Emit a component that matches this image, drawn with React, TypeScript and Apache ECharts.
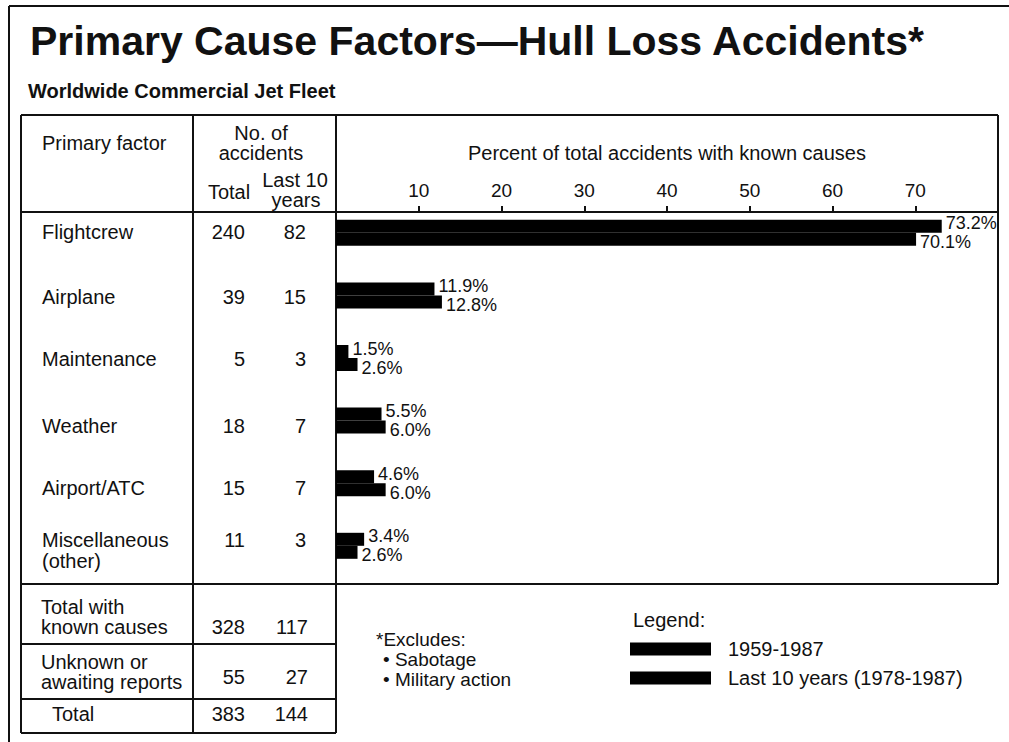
import React, { useEffect, useRef } from 'react';
import * as echarts from 'echarts';

// ---- data ----
const factors = ['Flightcrew', 'Airplane', 'Maintenance', 'Weather', 'Airport/ATC', 'Miscellaneous\n(other)'];
const totalCounts = [240, 39, 5, 18, 15, 11];
const last10Counts = [82, 15, 3, 7, 7, 3];
const pct1959 = [73.2, 11.9, 1.5, 5.5, 4.6, 3.4];
const pctLast10 = [70.1, 12.8, 2.6, 6.0, 6.0, 2.6];
const seriesNames = ['1959-1987', 'Last 10 years (1978-1987)'];
const summaryLabels = ['Total with\nknown causes', 'Unknown or\nawaiting reports', 'Total'];
const summaryTotal = [328, 55, 383];
const summaryLast10 = [117, 27, 144];
const excludes = ['Sabotage', 'Military action'];

// ---- layout / style ----
const FONT = '"Liberation Sans", Arial, Helvetica, sans-serif';
const INK = '#111';
const GRID_LEFT = 336;
const GRID_RIGHT = 998;
const GRID_TOP = 201.5;
const BAND = 62.6;
const HEADER_Y = 212;
const rowY = [232, 297, 359, 426, 488, 540];
const sumY = [627, 677, 714];
const sumLabelY = [[607, 627], [662, 682], [714]];

function txt(x: number, y: number, text: string, opts: any = {}) {
  const align = opts.align || 'left';
  return {
    type: 'text',
    x,
    y,
    silent: true,
    style: {
      text,
      fill: INK,
      fontFamily: FONT,
      fontSize: opts.size || 20,
      fontWeight: opts.weight || 'normal',
      align,
      verticalAlign: 'middle',
      textAlign: align,
      textVerticalAlign: 'middle',
    },
  };
}

function ln(x1: number, y1: number, x2: number, y2: number, w = 2) {
  return {
    type: 'line',
    silent: true,
    shape: { x1, y1, x2, y2 },
    style: { stroke: INK, lineWidth: w },
  };
}

function barLabel(dy: number) {
  return {
    show: true,
    position: 'right',
    distance: 4,
    offset: [0, dy],
    fontSize: 18,
    color: INK,
    fontFamily: FONT,
    formatter: (p: any) => Number(p.value).toFixed(1) + '%',
  };
}

export default function App() {
  const ref = useRef<HTMLDivElement>(null);

  useEffect(() => {
    if (!ref.current) return;
    const chart = echarts.init(ref.current, undefined, { renderer: 'svg' });

    const graphic: any[] = [];
    // outer page frame (cropped)
    graphic.push(ln(9, 6, 9, 742));
    graphic.push(ln(9, 6, 1009, 6));
    // titles
    graphic.push(txt(30, 41, 'Primary Cause Factors\u2014Hull Loss Accidents*', { size: 41, weight: 'bold' }));
    graphic.push(txt(28, 91, 'Worldwide Commercial Jet Fleet', { size: 20, weight: 'bold' }));
    // table lines
    graphic.push(ln(21, 115, GRID_RIGHT, 115));
    graphic.push(ln(21, 115, 21, 733));
    graphic.push(ln(GRID_RIGHT, 115, GRID_RIGHT, 584));
    graphic.push(ln(21, 584, GRID_RIGHT, 584));
    graphic.push(ln(193, 115, 193, 733));
    graphic.push(ln(GRID_LEFT, 115, GRID_LEFT, 733));
    graphic.push(ln(21, HEADER_Y, GRID_LEFT, HEADER_Y));
    graphic.push(ln(21, 644, GRID_LEFT, 644));
    graphic.push(ln(21, 699, GRID_LEFT, 699));
    graphic.push(ln(21, 733, GRID_LEFT, 733));
    // header
    graphic.push(txt(42, 143, 'Primary factor'));
    graphic.push(txt(261, 133, 'No. of', { align: 'center' }));
    graphic.push(txt(261, 153, 'accidents', { align: 'center' }));
    graphic.push(txt(229, 192, 'Total', { align: 'center' }));
    graphic.push(txt(295, 180, 'Last 10', { align: 'center' }));
    graphic.push(txt(296, 200, 'years', { align: 'center' }));
    // rows
    factors.forEach((f, i) => {
      f.split('\n').forEach((line, k) => {
        graphic.push(txt(42, rowY[i] + k * 21, line));
      });
      graphic.push(txt(245, rowY[i], String(totalCounts[i]), { align: 'right' }));
      graphic.push(txt(306, rowY[i], String(last10Counts[i]), { align: 'right' }));
    });
    summaryLabels.forEach((s, i) => {
      s.split('\n').forEach((line, k) => {
        graphic.push(txt(i === 2 ? 52 : 41, sumLabelY[i][k], line));
      });
      graphic.push(txt(245, sumY[i], String(summaryTotal[i]), { align: 'right' }));
      graphic.push(txt(308, sumY[i], String(summaryLast10[i]), { align: 'right' }));
    });
    // footnote
    graphic.push(txt(376, 639, '*Excludes:', { size: 19 }));
    excludes.forEach((e, i) => {
      graphic.push(txt(383, 659 + i * 20, '\u2022 ' + e, { size: 19 }));
    });
    graphic.push(txt(633, 620, 'Legend:'));

    chart.setOption({
      animation: false,
      backgroundColor: '#ffffff',
      textStyle: { fontFamily: FONT },
      grid: { left: GRID_LEFT, width: GRID_RIGHT - GRID_LEFT, top: GRID_TOP, height: BAND * factors.length, containLabel: false },
      xAxis: {
        type: 'value',
        position: 'top',
        min: 0,
        max: 80,
        interval: 10,
        offset: -(HEADER_Y - GRID_TOP),
        name: 'Percent of total accidents with known causes',
        nameLocation: 'middle',
        nameGap: 49,
        nameTextStyle: { fontSize: 20, color: INK, fontFamily: FONT },
        axisLine: { show: true, lineStyle: { color: INK, width: 2 } },
        axisTick: { show: true, length: 6, lineStyle: { color: INK, width: 2 } },
        axisLabel: { fontSize: 19, color: INK, fontFamily: FONT, margin: 12, showMinLabel: false, showMaxLabel: false },
        splitLine: { show: false },
      },
      yAxis: {
        type: 'category',
        data: factors,
        inverse: true,
        axisLine: { show: false },
        axisTick: { show: false },
        axisLabel: { show: false },
        splitLine: { show: false },
      },
      legend: {
        orient: 'vertical',
        left: 630,
        top: 639,
        padding: 0,
        itemWidth: 81,
        itemHeight: 13,
        itemGap: 9,
        icon: 'rect',
        selectedMode: false,
        data: seriesNames,
        textStyle: { fontSize: 20, color: INK, fontFamily: FONT, padding: [0, 0, 0, 12] },
      },
      series: [
        {
          type: 'bar',
          name: seriesNames[0],
          data: pct1959,
          barWidth: 13,
          barGap: '0%',
          itemStyle: { color: '#000' },
          label: barLabel(-3),
        },
        {
          type: 'bar',
          name: seriesNames[1],
          data: pctLast10,
          barWidth: 13,
          barGap: '0%',
          itemStyle: { color: '#000' },
          label: barLabel(3),
        },
      ],
      graphic,
    });

    return () => chart.dispose();
  }, []);

  return (
    <div
      ref={ref}
      style={{ position: 'absolute', left: 0, top: 0, width: 1009, height: 742, background: '#fff' }}
    />
  );
}
